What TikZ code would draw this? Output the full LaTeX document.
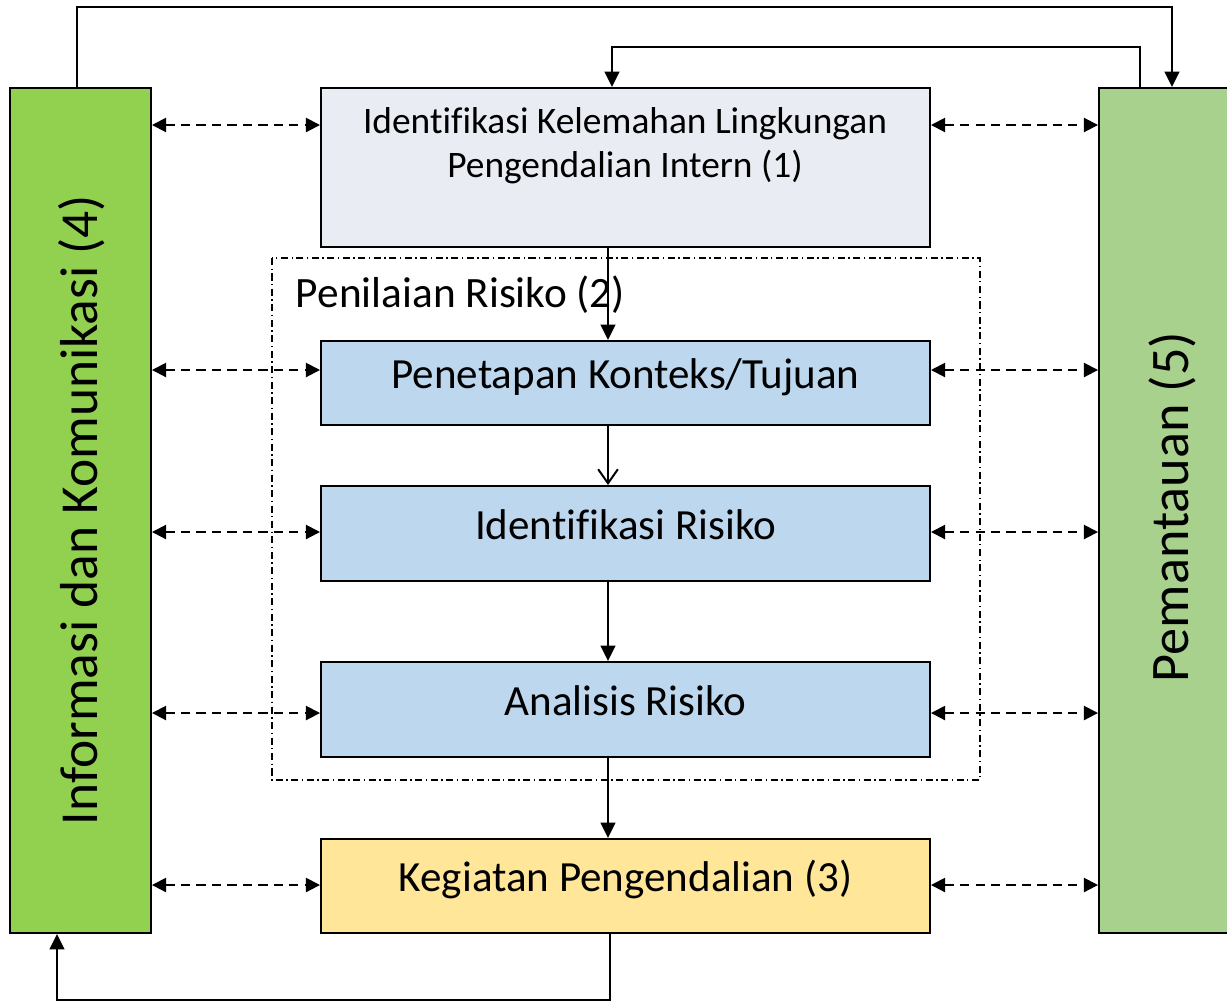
\documentclass[tikz,border=0pt]{standalone}
\usepackage{fontspec}
\setmainfont[Ligatures=NoCommon]{Carlito}
\usetikzlibrary{arrows.meta}
\usetikzlibrary{positioning}
\newcommand{\unitpx}{0.025cm}
\definecolor{infogreen}{HTML}{92D050}
\definecolor{pemgreen}{HTML}{A9D18E}
\definecolor{idgray}{HTML}{E9EDF3}
\definecolor{riskblue}{HTML}{BDD7EE}
\definecolor{ctrlyellow}{HTML}{FFE699}
\tikzset{
  box/.style = {draw, line width=1.4pt, minimum width=609*\unitpx, inner sep=0,
                text height=16pt, text depth=8pt, font=\fontsize{30.6}{36}\selectfont},
  sidebox/.style = {draw, line width=1.4pt, minimum width=141*\unitpx, minimum height=845*\unitpx, inner sep=0},
  arr/.style = {line width=1.4pt, -{Triangle[length=11pt, width=10.5pt]}},
  openarr/.style = {line width=1.4pt, -{Straight Barb[length=10pt, width=14pt]}},
  dasharr/.style = {line width=1.4pt, dash pattern=on 6.5pt off 4.5pt,
                    {Triangle[length=10pt, width=10pt]}-{Triangle[length=10pt, width=10pt]}}
}

\begin{document}
\begin{tikzpicture}[x=0.025cm, y=-0.025cm]

  \clip (0,0) rectangle (1227,1002);

  % side boxes
  \node [sidebox, fill=infogreen] (info) at (80.5,510.5) {};
  \node [rotate=90, font=\fontsize{38}{44}\selectfont] (infotxt) at (82,510) {Informasi dan Komunikasi (4)};
  \node [sidebox, fill=pemgreen] (pem) at (1169.5,510.5) {};
  \node [rotate=90, font=\fontsize{38.6}{44}\selectfont] (pemtxt) at (1172,507) {Pemantauan (5)};

  % centre column
  \node [box, fill=idgray, minimum height=159*\unitpx, text height=, text depth=] (ident) at (625.5,167.5) {};
  \node [align=center, font=\fontsize{26.6}{31}\selectfont] (identtxt) at (625,146) {Identifikasi Kelemahan Lingkungan\\Pengendalian Intern (1)};

  \draw [line width=0.8pt, dash pattern=on 5pt off 2.5pt on 1pt off 2.5pt] (272,258) rectangle (980,780);
  \node [anchor=west, font=\fontsize{30.8}{36}\selectfont] (risktxt) at (291,295) {Penilaian Risiko (2)};

  \node [box, fill=riskblue, minimum height=84*\unitpx] (penet) at (625.5,383) {Penetapan Konteks/Tujuan};
  \node [box, fill=riskblue, minimum height=95*\unitpx] (idrisk) at (625.5,533.5) {Identifikasi Risiko};
  \node [box, fill=riskblue, minimum height=95*\unitpx] (analis) at (625.5,709.5) {Analisis Risiko};
  \node [box, fill=ctrlyellow, minimum height=94*\unitpx] (keg) at (625.5,886) {Kegiatan Pengendalian (3)};

  % flow down the middle
  \coordinate (axis) at (608,0);
  \draw [arr] (axis |- ident.south) -- (axis |- penet.north);
  \draw [openarr] (axis |- penet.south) -- (axis |- idrisk.north);
  \draw [arr] (axis |- idrisk.south) -- (axis |- analis.north);
  \draw [arr] (axis |- analis.south) -- (axis |- keg.north);

  % feedback lines
  \coordinate (kegout) at (610,0);
  \coordinate (infoin) at (57,1000);
  \draw [arr] (kegout |- keg.south) |- (infoin) -- (infoin |- info.south);
  \coordinate (infoout) at (77,7);
  \coordinate (pemin) at (1172,7);
  \draw [arr] (infoout |- info.north) -- (infoout) -- (pemin) -- (pemin |- pem.north);
  \coordinate (pemout) at (1140,47);
  \coordinate (identin) at (612,47);
  \draw [arr] (pemout |- pem.north) -- (pemout) -- (identin) -- (identin |- ident.north);

  % two-way links to the side boxes
  \foreach \b/\y in {ident/125, penet/370, idrisk/532, analis/713, keg/885} {
    \coordinate (h) at (0,\y);
    \draw [dasharr] (info.east |- h) -- (\b.west |- h);
    \draw [dasharr] (\b.east |- h) -- (pem.west |- h);
  }

\end{tikzpicture}
\end{document}
